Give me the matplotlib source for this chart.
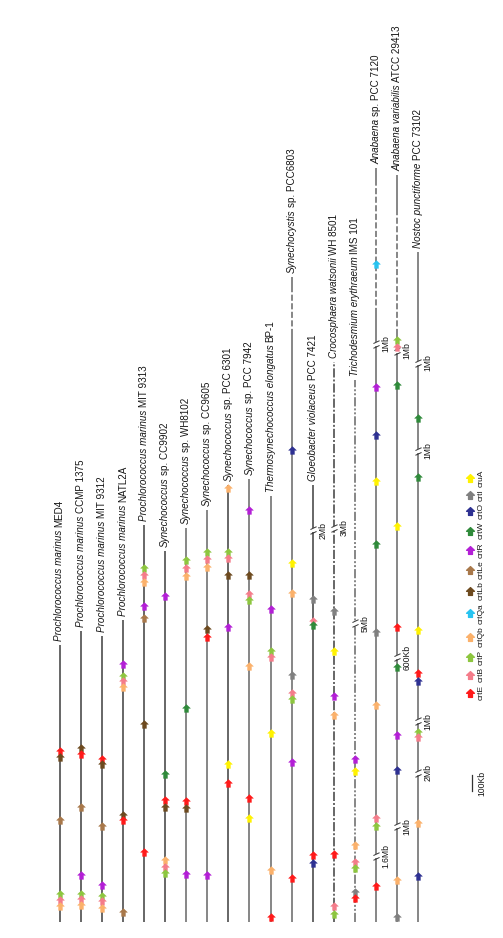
import matplotlib
matplotlib.use("Agg")
import matplotlib.pyplot as plt
from matplotlib.path import Path
from matplotlib.transforms import IdentityTransform

plt.rcParams["font.family"] = ["Liberation Sans", "DejaVu Sans"]

# legend order of the carotenoid genes
genes = ["crtE", "crtB", "crtP", "crtQb", "crtQa", "crtLb", "crtLe",
         "crtR", "crtW", "crtO", "crtI", "cruA"]
gene_colors = ["#ff1a1a", "#f47c8a", "#8dc63f", "#fbb16b", "#27c3f0", "#6d4a1f",
               "#a8784a", "#b31fd6", "#2f8a3a", "#2e3192", "#808080", "#fff200"]

# italic part / roman part of each genome name
species = ["Prochlorococcus marinus", "Prochlorococcus marinus", "Prochlorococcus marinus",
           "Prochlorococcus marinus", "Prochlorococcus marinus", "Synechococcus",
           "Synechococcus", "Synechococcus", "Synechococcus", "Synechococcus",
           "Thermosynechococcus elongatus", "Synechocystis", "Gloeobacter violaceus",
           "Crocosphaera watsonii", "Trichodesmium erythraeum", "Anabaena",
           "Anabaena variabilis", "Nostoc punctiforme"]
strains = ["MED4", "CCMP 1375", "MIT 9312", "NATL2A", "MIT 9313", "sp. CC9902",
           "sp. WH8102", "sp. CC9605", "sp. PCC 6301", "sp. PCC 7942", "BP-1",
           "sp. PCC6803", "PCC 7421", "WH 8501", "IMS 101", "sp. PCC 7120",
           "ATCC 29413", "PCC 73102"]

# drawn length of each genome map (kb, after the // cuts)
genome_kb = [1660, 1742, 1715, 1810, 2380, 2220, 2360, 2467, 2617, 2650,
             2550, 3860, 2617, 3353, 3246, 4515, 4473, 4012]

# gene positions along each map (kb from the bottom end)
med4 = [("crtE", 1024), ("crtLb", 988), ("crtLe", 611), ("crtP", 165), ("crtB", 129), ("crtQb", 93)]
ccmp1375 = [("crtLb", 1042), ("crtE", 1006), ("crtLe", 689), ("crtR", 281), ("crtP", 168),
            ("crtB", 138), ("crtQb", 102)]
mit9312 = [("crtE", 979), ("crtLb", 949), ("crtLe", 575), ("crtR", 222), ("crtP", 156),
           ("crtB", 126), ("crtQb", 84)]
natl2a = [("crtR", 1542), ("crtP", 1476), ("crtB", 1446), ("crtQb", 1410), ("crtLb", 638),
          ("crtE", 608), ("crtLe", 57)]
mit9313 = [("crtP", 2120), ("crtB", 2075), ("crtQb", 2033), ("crtR", 1895), ("crtLe", 1820),
           ("crtLb", 1186), ("crtE", 419)]
cc9902 = [("crtR", 1955), ("crtW", 886), ("crtE", 731), ("crtLb", 686), ("crtQb", 374),
          ("crtB", 329), ("crtP", 293)]
wh8102 = [("crtP", 2168), ("crtB", 2117), ("crtQb", 2072), ("crtW", 1284), ("crtE", 725),
          ("crtLb", 683), ("crtR", 287)]
cc9605 = [("crtP", 2216), ("crtB", 2174), ("crtQb", 2126), ("crtLb", 1752), ("crtE", 1705),
          ("crtR", 281)]
pcc6301 = [("crtQb", 2599), ("crtP", 2216), ("crtB", 2180), ("crtLb", 2075), ("crtR", 1766),
           ("cruA", 949), ("crtE", 832)]
pcc7942 = [("crtR", 2467), ("crtLb", 2078), ("crtB", 1967), ("crtP", 1928), ("crtQb", 1530),
           ("crtE", 740), ("cruA", 623)]
bp1 = [("crtR", 1877), ("crtP", 1623), ("crtB", 1587), ("cruA", 1132), ("crtQb", 314), ("crtE", 27)]
pcc6803 = [("crtO", 2826), ("cruA", 2150), ("crtQb", 1970), ("crtI", 1479), ("crtB", 1371),
           ("crtP", 1335), ("crtR", 961), ("crtE", 266)]
pcc7421 = [("crtI", 1937), ("crtB", 1805), ("crtW", 1776), ("crtE", 404), ("crtO", 356)]
wh8501 = [("crtI", 1862), ("cruA", 1623), ("crtR", 1356), ("crtQb", 1237), ("crtE", 410),
          ("crtB", 96), ("crtP", 45)]
ims101 = [("crtR", 976), ("cruA", 907), ("crtQb", 461), ("crtB", 359), ("crtP", 326),
          ("crtI", 177), ("crtE", 144)]
pcc7120 = [("crtQa", 3940), ("crtR", 3201), ("crtO", 2916), ("cruA", 2638), ("crtW", 2266),
           ("crtI", 1737), ("crtQb", 1302), ("crtB", 620), ("crtP", 575), ("crtE", 216)]
atcc29413 = [("crtP", 3488), ("crtB", 3446), ("crtW", 3216), ("cruA", 2371), ("crtE", 1766),
             ("crtW", 1524), ("crtR", 1120), ("crtO", 910), ("crtQb", 251), ("crtI", 30)]
pcc73102 = [("crtW", 3018), ("crtW", 2662), ("cruA", 1746), ("crtE", 1489), ("crtO", 1443),
            ("crtP", 1138), ("crtB", 1105), ("crtQb", 590), ("crtO", 278)]
gene_maps = [med4, ccmp1375, mit9312, natl2a, mit9313, cc9902, wh8102, cc9605, pcc6301,
             pcc7942, bp1, pcc6803, pcc7421, wh8501, ims101, pcc7120, atcc29413, pcc73102]

# skipped stretches (position, skipped length)
cuts = {"PCC 7421": [(2347, "2Mb")],
        "WH 8501": [(2359, "3Mb")],
        "IMS 101": [(1790, "5Mb")],
        "sp. PCC 7120": [(3464, "1Mb"), (395, "1.6Mb")],
        "ATCC 29413": [(3419, "1Mb"), (1587, "600Kb"), (572, "1Mb")],
        "PCC 73102": [(3347, "1Mb"), (2820, "1Mb"), (1201, "1Mb"), (895, "2Mb")]}
# parts of maps drawn dashed
dashed_kb = {"sp. PCC6803": (3515, 3784), "sp. PCC 7120": (3640, 4440),
             "ATCC 29413": (3515, 4240)}

# ---- style ----
dark, grey = "#3d3d3d", "#666666"
line_colors = [dark, dark, dark, dark, dark, dark, grey, grey, dark, grey,
               grey, grey, dark, dark, grey, grey, grey, grey]
whole_style = {"WH 8501": (0, (6, 1.3, 1.3, 1.3)),
               "IMS 101": (0, (6, 1.3, 1.3, 1.3, 1.3, 1.3))}
PX_PER_KB = 0.167
X0, DX, Y_END = 59.5, 21.1, 922
W, H = 503, 938

arrow = Path([(0, 1), (1, 0.05), (0.5, 0.05), (0.5, -1), (-0.5, -1), (-0.5, 0.05),
              (-1, 0.05), (0, 1)], closed=True)
slashes = Path([(-0.8, -1), (0.8, -0.25), (-0.8, 0.25), (0.8, 1)],
               [Path.MOVETO, Path.LINETO, Path.MOVETO, Path.LINETO])

fig = plt.figure(figsize=(W / 100, H / 100), dpi=100)
ax = fig.add_axes([0, 0, 1, 1])
ax.set_xlim(-X0 / DX, (W - X0) / DX)
ax.set_ylim(-(H - Y_END) / PX_PER_KB, Y_END / PX_PER_KB)
ax.axis("off")
renderer = fig.canvas.get_renderer()
ident = IdentityTransform()


def rotated_run(x, y, pieces, size, gap=2.6):
    """write text pieces bottom-to-top starting at display point (x, y)"""
    ext = None
    for txt, style in pieces:
        t = ax.text(x, y, txt, transform=ident, rotation=90, rotation_mode="anchor",
                    ha="left", va="center", fontsize=size, style=style, color="#161616")
        ext = t.get_window_extent(renderer)
        y = ext.y1 + gap
    return ext


for i, (top, hits) in enumerate(zip(genome_kb, gene_maps)):
    code = strains[i]
    kw = dict(color=line_colors[i], lw=1.1, solid_capstyle="butt", zorder=1)
    if code in dashed_kb:
        lo, hi = dashed_kb[code]
        ax.plot([i, i], [0, lo], **kw)
        ax.plot([i, i], [lo, hi], ls=(0, (4, 1.6)), **kw)
        ax.plot([i, i], [hi, top], **kw)
    else:
        ax.plot([i, i], [0, top], ls=whole_style.get(code, "-"), **kw)

    for g, kb in hits:
        c = gene_colors[genes.index(g)]
        ax.plot(i, kb, marker=arrow, ms=5.6, color=c, mec=c, mew=0.3, ls="none", zorder=3)

    for kb, lab in cuts.get(code, []):
        ax.plot(i, kb, marker="s", ms=2.4, color="white", mew=0, ls="none", zorder=2)
        ax.plot(i, kb, marker=slashes, ms=5.5, mec="#333333", mfc="none", mew=0.7,
                ls="none", zorder=2)
        xd, yd = ax.transData.transform((i, kb))
        ax.text(xd + 10, yd, lab, transform=ident, rotation=90, ha="center", va="center",
                fontsize=6.2, color="#161616")

    xd, yd = ax.transData.transform((i, top))
    rotated_run(xd, yd + 4, [(species[i], "italic"), (code, "normal")], 7.1)

# gene legend: one word per gene with its marker above it
leg_x, leg_y = 470, H - 700
for g, c in zip(genes, gene_colors):
    ext = rotated_run(leg_x + 11.5, leg_y, [(g, "normal")], 6)
    ax.plot([leg_x], [(ext.y0 + ext.y1) / 2], marker=arrow, ms=5.6, color=c, mec=c,
            transform=ident, ls="none")
    leg_y = ext.y1 + 2.6

# scale bar
sx = (471.7 - X0) / DX
ax.plot([sx, sx], [782, 882], color="#333333", lw=0.9)
xd, yd = ax.transData.transform((sx, 832))
ax.text(xd + 10, yd, "100Kb", transform=ident, rotation=90, ha="center", va="center",
        fontsize=6.2, color="#161616")

fig.savefig("out.png", dpi=100)
